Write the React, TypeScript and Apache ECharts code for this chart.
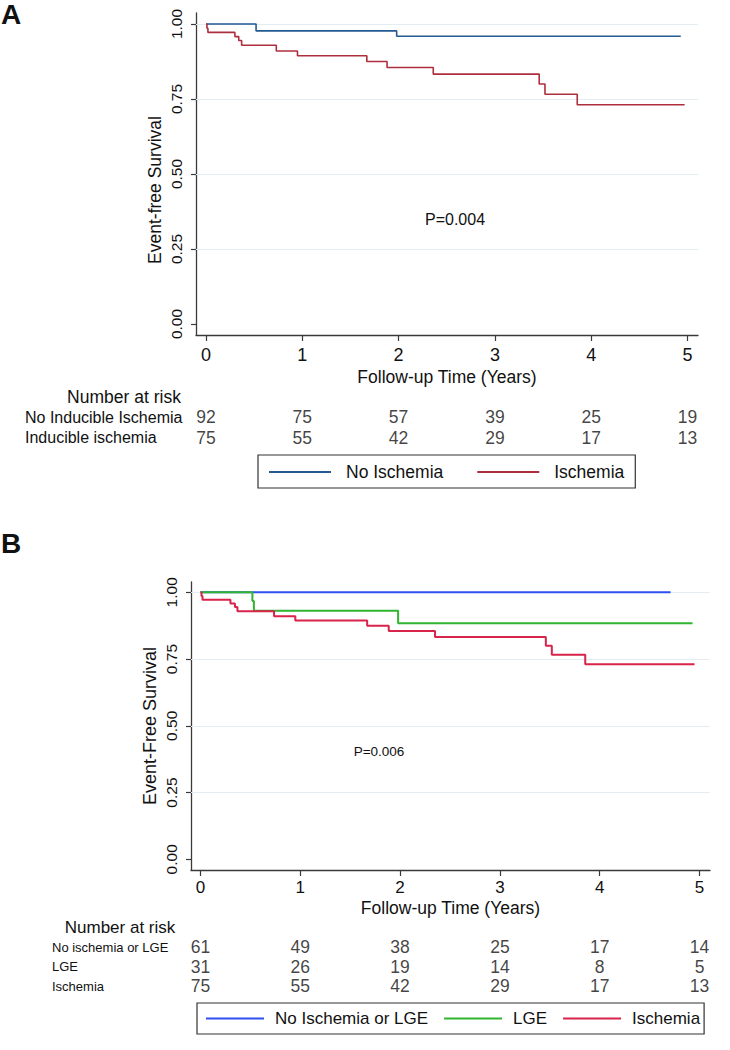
import React, { useEffect, useRef } from "react";
import * as echarts from "echarts";

// ---------- DATA ----------
const timeTicks = [0, 1, 2, 3, 4, 5];
const survTicks = [0, 0.25, 0.5, 0.75, 1];
const gridValues = [0.25, 0.5, 0.75, 1];

// Panel A
const noIschemiaTimesA = [0, 0.52, 1.98, 4.93];
const noIschemiaSurvA = [1, 0.977, 0.959, 0.959];

// Ischemia group (same group in both panels)
const ischemiaTimes = [0, 0.01, 0.02, 0.3, 0.34, 0.37, 0.73, 0.95, 1.67, 1.88, 2.36, 3.46, 3.52, 3.855, 4.97];
const ischemiaSurv = [1, 0.986, 0.972, 0.958, 0.945, 0.929, 0.91, 0.894, 0.875, 0.855, 0.833, 0.8, 0.766, 0.731, 0.731];

// Panel B
const noIschLgeTimesB = [0, 4.71];
const noIschLgeSurvB = [1, 1];
const lgeTimesB = [0, 0.52, 0.535, 1.98, 4.93];
const lgeSurvB = [1, 0.967, 0.931, 0.884, 0.884];
const ischemiaTimesB = [0, 0.01, 0.02, 0.3, 0.345, 0.37, 0.737, 0.95, 1.67, 1.886, 2.35, 3.46, 3.52, 3.855, 4.95];

// Number at risk
const riskTimes = [0, 1, 2, 3, 4, 5];
const riskRowsA = ["No Inducible Ischemia", "Inducible ischemia"];
const riskA_noIsch = [92, 75, 57, 39, 25, 19];
const riskA_isch = [75, 55, 42, 29, 17, 13];
const riskRowsB = ["No ischemia or LGE", "LGE", "Ischemia"];
const riskB_none = [61, 49, 38, 25, 17, 14];
const riskB_lge = [31, 26, 19, 14, 8, 5];
const riskB_isch = [75, 55, 42, 29, 17, 13];

const legendA = ["No Ischemia", "Ischemia"];
const legendB = ["No Ischemia or LGE", "LGE", "Ischemia (B)"];

// ---------- STYLE ----------
const FONT = '"Liberation Sans", Arial, Helvetica, sans-serif';
const AXIS = "#3a3a3a";
const TXT = "#111";
const GRIDC = "#e3ecf1";

const zip = (t: number[], v: number[]) => t.map((x, i) => [x, v[i]]);

function kmSeries(name: string, t: number[], v: number[], color: string, width: number, axis: number) {
  return {
    name,
    type: "line",
    step: "end",
    xAxisIndex: axis,
    yAxisIndex: axis,
    data: zip(t, v),
    symbol: "none",
    color,
    itemStyle: { color },
    lineStyle: { color, width },
    z: 10,
  };
}

function gridSeries(axis: number) {
  return {
    name: "grid" + axis,
    type: "line",
    xAxisIndex: axis,
    yAxisIndex: axis,
    data: [],
    z: 1,
    markLine: {
      silent: true,
      z: 1,
      symbol: ["none", "none"],
      label: { show: false },
      lineStyle: { color: GRIDC, width: 1.2, type: "solid" },
      data: gridValues.map((y) => ({ yAxis: y })),
    },
  };
}

function riskSeries(id: string, axis: number, row: number, vals: number[], fs: number) {
  return {
    name: id,
    type: "scatter",
    xAxisIndex: axis,
    yAxisIndex: axis,
    symbolSize: 1,
    itemStyle: { color: "transparent" },
    data: riskTimes.map((t, i) => [t, row, vals[i]]),
    label: {
      show: true,
      position: "inside",
      formatter: (p: any) => String(p.value[2]),
      fontSize: fs,
      fontFamily: FONT,
      color: TXT,
    },
  };
}

function mainX(gridIndex: number, min: number, max: number, fs: number, margin: number, gap: number) {
  return {
    gridIndex,
    type: "value",
    min,
    max,
    axisLine: { show: true, onZero: false, lineStyle: { color: AXIS, width: 1.3 } },
    axisTick: { show: true, customValues: timeTicks, length: 6, lineStyle: { color: AXIS, width: 1.2 } },
    axisLabel: { customValues: timeTicks, fontSize: fs, fontFamily: FONT, color: TXT, margin },
    splitLine: { show: false },
    name: "Follow-up Time (Years)",
    nameLocation: "middle",
    nameGap: gap,
    nameTextStyle: { fontSize: 17.5, fontFamily: FONT, color: TXT },
  };
}

function mainY(gridIndex: number, min: number, max: number) {
  return {
    gridIndex,
    type: "value",
    min,
    max,
    axisLine: { show: true, onZero: false, lineStyle: { color: AXIS, width: 1.3 } },
    axisTick: { show: true, customValues: survTicks, length: 5, lineStyle: { color: AXIS, width: 1.2 } },
    axisLabel: {
      customValues: survTicks,
      rotate: 90,
      formatter: (v: number) => v.toFixed(2),
      fontSize: 15.5,
      fontFamily: FONT,
      color: TXT,
      margin: 12,
    },
    splitLine: { show: false },
  };
}

function hiddenX(gridIndex: number, min: number, max: number) {
  return { gridIndex, type: "value", min, max, show: false };
}

function rowY(gridIndex: number, rows: string[], margin: number, fs: number) {
  return {
    gridIndex,
    type: "category",
    data: rows,
    inverse: true,
    axisLine: { show: false },
    axisTick: { show: false },
    splitLine: { show: false },
    axisLabel: { interval: 0, align: "left", margin, fontSize: fs, fontFamily: FONT, color: TXT },
  };
}

function txt(text: string, x: number, y: number, fs: number, extra: any = {}) {
  return {
    type: "text",
    x,
    y,
    rotation: extra.rotation || 0,
    style: {
      text,
      fontSize: fs,
      fontFamily: FONT,
      fontWeight: extra.bold ? "bold" : "normal",
      fill: TXT,
      align: extra.align || "center",
      verticalAlign: "middle",
    },
  };
}

export default function App() {
  const ref = useRef<HTMLDivElement>(null);

  useEffect(() => {
    if (!ref.current) return;
    const chart = echarts.init(ref.current, null, { renderer: "svg" });

    const option: any = {
      animation: false,
      backgroundColor: "#fff",
      textStyle: { fontFamily: FONT },
      grid: [
        { left: 196, top: 13, width: 502, height: 322 },
        { left: 196, top: 406.75, width: 502, height: 41 },
        { left: 191, top: 582, width: 519, height: 288 },
        { left: 191, top: 937.25, width: 519, height: 58.5 },
      ],
      xAxis: [
        mainX(0, -0.1038, 5.109, 18, 11, 33),
        hiddenX(1, -0.1038, 5.109),
        mainX(2, -0.0952, 5.105, 17, 9, 29),
        hiddenX(3, -0.0952, 5.105),
      ],
      yAxis: [
        mainY(0, -0.0367, 1.0367),
        rowY(1, riskRowsA, 171, 16),
        mainY(2, -0.04, 1.0386),
        rowY(3, riskRowsB, 139, 13),
      ],
      legend: [
        {
          left: 258,
          top: 455,
          orient: "horizontal",
          data: legendA,
          icon: "rect",
          itemWidth: 62,
          itemHeight: 2,
          itemGap: 34,
          padding: [8, 11, 7, 11],
          borderColor: "#333",
          borderWidth: 1.2,
          selectedMode: false,
          textStyle: { fontSize: 17.5, fontFamily: FONT, color: TXT, padding: [0, 0, 0, 10] },
        },
        {
          left: 197,
          top: 1003,
          orient: "horizontal",
          data: legendB,
          icon: "rect",
          itemWidth: 58,
          itemHeight: 2,
          itemGap: 16,
          padding: [7, 4, 7, 9],
          borderColor: "#333",
          borderWidth: 1.2,
          selectedMode: false,
          formatter: (name: string) => name.replace(" (B)", ""),
          textStyle: { fontSize: 17, fontFamily: FONT, color: TXT, padding: [0, 0, 0, 6] },
        },
      ],
      series: [
        gridSeries(0),
        kmSeries("No Ischemia", noIschemiaTimesA, noIschemiaSurvA, "#245a92", 1.6, 0),
        kmSeries("Ischemia", ischemiaTimes, ischemiaSurv, "#ad2f3d", 1.6, 0),
        gridSeries(2),
        kmSeries("No Ischemia or LGE", noIschLgeTimesB, noIschLgeSurvB, "#2f4ff0", 2, 2),
        kmSeries("LGE", lgeTimesB, lgeSurvB, "#2fb52f", 2, 2),
        kmSeries("Ischemia (B)", ischemiaTimesB, ischemiaSurv, "#d8234a", 2, 2),
        riskSeries("riskA0", 1, 0, riskA_noIsch, 17.5),
        riskSeries("riskA1", 1, 1, riskA_isch, 17.5),
        riskSeries("riskB0", 3, 0, riskB_none, 17.5),
        riskSeries("riskB1", 3, 1, riskB_lge, 17.5),
        riskSeries("riskB2", 3, 2, riskB_isch, 17.5),
      ],
      graphic: [
        txt("A", 1, 14, 28, { bold: true, align: "left" }),
        txt("B", 1, 543, 28, { bold: true, align: "left" }),
        txt("Event-free Survival", 155, 190, 17.5, { rotation: Math.PI / 2 }),
        txt("Event-Free Survival", 150, 726, 18, { rotation: Math.PI / 2 }),
        txt("P=0.004", 455, 219, 16),
        txt("P=0.006", 379, 751, 13.5),
        txt("Number at risk", 124, 397, 17.5),
        txt("Number at risk", 120, 927, 17),
      ],
    };

    chart.setOption(option);
    return () => chart.dispose();
  }, []);

  return (
    <div
      ref={ref}
      style={{ position: "absolute", left: 0, top: 0, width: 730, height: 1050 }}
    />
  );
}
